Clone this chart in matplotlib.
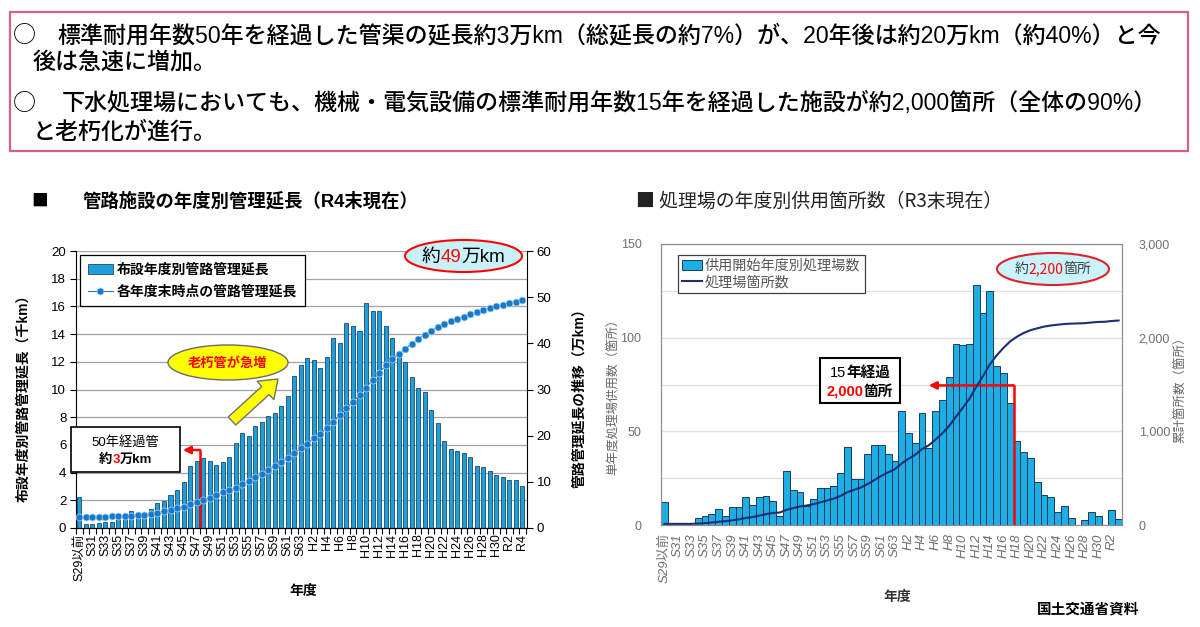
import matplotlib
matplotlib.use('Agg')
import matplotlib.pyplot as plt
import numpy as np
from matplotlib.patches import Ellipse, Rectangle, FancyArrow

# ---------------- data ----------------
pipe_cats = ['S29以前',
             'S30', 'S31', 'S32', 'S33', 'S34', 'S35', 'S36', 'S37', 'S38', 'S39',
             'S40', 'S41', 'S42', 'S43', 'S44', 'S45', 'S46', 'S47', 'S48', 'S49',
             'S50', 'S51', 'S52', 'S53', 'S54', 'S55', 'S56', 'S57', 'S58', 'S59',
             'S60', 'S61', 'S62', 'S63',
             'H1', 'H2', 'H3', 'H4', 'H5', 'H6', 'H7', 'H8', 'H9', 'H10',
             'H11', 'H12', 'H13', 'H14', 'H15', 'H16', 'H17', 'H18', 'H19', 'H20',
             'H21', 'H22', 'H23', 'H24', 'H25', 'H26', 'H27', 'H28', 'H29', 'H30',
             'R1', 'R2', 'R3', 'R4']
plant_cats = pipe_cats[:68]          # S29以前 ... R3

# 布設年度別管路管理延長 (千km)
pipe_len = [2.25, 0.3, 0.3, 0.35, 0.4, 0.4, 0.65, 0.7, 1.2, 0.95,
            1.0, 1.4, 1.8, 1.95, 2.38, 2.72, 3.3, 4.45, 4.84, 5.03,
            4.86, 4.55, 4.77, 5.15, 6.16, 6.83, 6.67, 7.39, 7.65, 8.09,
            8.28, 8.83, 9.53, 10.97, 11.75, 12.3, 12.1, 11.58, 12.32, 13.74,
            13.38, 14.78, 14.58, 14.22, 16.27, 15.7, 15.7, 14.6, 13.7, 12.55,
            11.95, 10.9, 10.1, 9.8, 8.55, 7.55, 6.27, 5.7, 5.55, 5.4,
            5.15, 4.5, 4.4, 4.1, 3.85, 3.7, 3.5, 3.45, 3.0]
# 各年度末時点の管路管理延長 (万km)
pipe_cum = [2.3, 2.35, 2.35, 2.4, 2.45, 2.5, 2.55, 2.6, 2.7, 2.8,
            2.9, 3.05, 3.3, 3.6, 3.9, 4.3, 4.6, 5.1, 5.6, 6.1,
            6.6, 7.1, 7.7, 8.2, 8.7, 9.5, 10.2, 11.0, 11.8, 12.6,
            13.4, 14.3, 15.2, 16.2, 17.3, 18.3, 19.4, 20.4, 21.7, 23.0,
            24.4, 25.9, 27.4, 28.8, 30.4, 32.1, 33.5, 35.2, 36.5, 37.7,
            38.8, 39.9, 40.9, 41.9, 42.7, 43.5, 44.2, 44.8, 45.3, 45.8,
            46.3, 46.8, 47.2, 47.6, 48.0, 48.4, 48.7, 49.0, 49.4]

# 供用開始年度別処理場数 (箇所)
plants = [12.5, 0, 0, 0, 0, 3.6, 4.8, 5.7, 8.7, 4.8,
          9.8, 9.8, 14.8, 10.5, 14.8, 15.7, 12.6, 4.8, 28.8, 18.7,
          17.6, 10.1, 13.7, 19.8, 19.8, 20.6, 27.6, 41.8, 24.7, 24.7,
          37.7, 42.7, 42.7, 37.7, 34, 61, 49, 43.7, 60, 41,
          61, 66.8, 78.9, 96.8, 96.1, 96.8, 128, 113, 124.9, 85,
          81, 65, 45, 39, 35.9, 22.9, 15.8, 14.9, 6.9, 10.1,
          3.9, 0, 2.8, 6.9, 5, 0, 7.8, 3]
# 処理場箇所数 (累計, 箇所)
plant_cum = [12, 12, 12, 12, 12, 16, 21, 27, 35, 40,
             50, 60, 75, 85, 100, 116, 128, 133, 162, 180,
             198, 208, 222, 242, 261, 282, 310, 351, 376, 401,
             438, 481, 524, 562, 596, 657, 706, 750, 810, 851,
             912, 979, 1058, 1155, 1251, 1348, 1476, 1589, 1714, 1810,
             1890, 1960, 2010, 2050, 2080, 2100, 2118, 2130, 2138, 2146,
             2150, 2152, 2155, 2162, 2168, 2170, 2178, 2183]

header_lines = [
    ('○', '標準耐用年数50年を経過した管渠の延長約3万km（総延長の約7%）が、20年後は約20万km（約40%）と今'),
    ('', '後は急速に増加。'),
    ('○', '下水処理場においても、機械・電気設備の標準耐用年数15年を経過した施設が約2,000箇所（全体の90%）'),
    ('', 'と老朽化が進行。'),
]

# ---------------- setup ----------------
JP = ['Noto Sans CJK JP', 'DejaVu Sans']
LAT = ['Liberation Sans', 'Noto Sans CJK JP', 'DejaVu Sans']
plt.rcParams['font.family'] = LAT
plt.rcParams['axes.unicode_minus'] = False

W, H = 1200, 627
fig = plt.figure(figsize=(12, 6.27), dpi=100)
fig.patch.set_facecolor('white')


def rect(l, t, r, b):
    return [l / W, 1 - b / H, (r - l) / W, (b - t) / H]


# ---------------- left chart ----------------
ax1 = fig.add_axes(rect(76, 251, 527, 528))
xp = np.arange(len(pipe_cats))
bars1 = ax1.bar(xp, pipe_len, width=0.62, color='#1f9fd9', edgecolor='#1c4a6e',
                linewidth=0.6, zorder=2, label='布設年度別管路管理延長')
ax1.set_xlim(-0.3, 68.7)
ax1.set_ylim(0, 20)
ax1.set_yticks(np.arange(0, 21, 2))
ax1.yaxis.grid(True, color='#a3a3a3', lw=0.9)
ax1.set_axisbelow(True)
ax1.set_xticks(xp[::2])
ax1.set_xticklabels(pipe_cats[::2], rotation=90, fontsize=9, family=LAT)
ax1.set_xticks(np.arange(-0.5, 69, 1), minor=True)
ax1.tick_params(axis='x', which='major', length=0, pad=4)
ax1.tick_params(axis='x', which='minor', length=4, width=0.8, direction='out')
ax1.tick_params(axis='y', length=4, width=0.8, direction='out', labelsize=9.5, pad=3)
for s in ('top', 'right'):
    ax1.spines[s].set_visible(False)

ax1b = ax1.twinx()
line1, = ax1b.plot(xp, pipe_cum, '-o', color='#1a78c8', lw=0.8, ms=5.0,
                   mec='#a9d8f5', mew=0.5, zorder=3, label='各年度末時点の管路管理延長')
ax1b.set_ylim(0, 60)
ax1b.set_yticks(np.arange(0, 61, 10))
ax1b.tick_params(axis='y', length=4, width=0.8, direction='out', labelsize=9.5, pad=3)
for s in ('top', 'left'):
    ax1b.spines[s].set_visible(False)

leg1 = ax1b.legend(handles=[bars1, line1], loc='upper left', bbox_to_anchor=(0.009, 0.985),
                   frameon=True, fancybox=False, edgecolor='black', framealpha=1,
                   prop=dict(family=LAT, weight='bold', size=10), handlelength=1.8,
                   handletextpad=0.3, borderpad=0.55, labelspacing=0.55, borderaxespad=0)
leg1.get_frame().set_linewidth(0.9)

# red 50-year marker
ax1.plot([18.5, 18.5], [0, 5.63], color='red', lw=1.8, zorder=4, solid_capstyle='butt')
ax1.annotate('', xy=(15.9, 5.63), xytext=(18.55, 5.63),
             arrowprops=dict(arrowstyle='-|>', color='red', lw=1.8, mutation_scale=11,
                             shrinkA=0, shrinkB=0), zorder=4)

# ---------------- right chart ----------------
ax2 = fig.add_axes(rect(661, 244, 1122, 525))
xq = np.arange(len(plant_cats))
bars2 = ax2.bar(xq, plants, width=1.0, color='#1daee6', edgecolor='#1f3b56',
                linewidth=0.7, zorder=2, label='供用開始年度別処理場数')
ax2.set_xlim(-0.5, 67.5)
ax2.set_ylim(0, 150)
ax2.set_yticks(np.arange(0, 151, 25))
ax2.set_yticklabels(['0', '', '50', '', '100', '', '150'])
ax2.yaxis.grid(True, color='#e0e0e0', lw=1.0)
ax2.set_axisbelow(True)
ax2.set_xticks(xq[::2])
ax2.set_xticklabels(plant_cats[::2], rotation=90, fontsize=9.5, style='italic',
                    family=LAT, color='#6e6e6e')
ax2.tick_params(axis='x', length=0, pad=6)
ax2.tick_params(axis='y', length=0, pad=14, labelsize=9, labelcolor='#707070')
for s in ax2.spines.values():
    s.set_color('#8c8c8c')

ax2b = ax2.twinx()
line2, = ax2b.plot(xq, plant_cum, color='#1b2f73', lw=1.5, zorder=3, label='処理場箇所数')
ax2b.set_ylim(0, 3000)
ax2b.set_yticks([0, 1000, 2000, 3000])
ax2b.set_yticklabels(['0', '1,000', '2,000', '3,000'])
ax2b.tick_params(axis='y', length=0, pad=12, labelsize=9, labelcolor='#707070')
for s in ax2b.spines.values():
    s.set_color('#8c8c8c')

leg2 = ax2b.legend(handles=[bars2, line2], loc='upper left', bbox_to_anchor=(0.037, 0.962),
                   frameon=True, fancybox=False, edgecolor='#404040', framealpha=1,
                   prop=dict(family=JP, size=10.2), handlelength=1.4, handletextpad=0.2,
                   borderpad=0.3, labelspacing=0.15, borderaxespad=0)
leg2.get_frame().set_linewidth(0.9)
for t in leg2.get_texts():
    t.set_color('#555555')

ax2.plot([51.5, 51.5], [0, 74.5], color='red', lw=1.8, zorder=4, solid_capstyle='butt')
ax2.annotate('', xy=(39.0, 74.5), xytext=(51.55, 74.5),
             arrowprops=dict(arrowstyle='-|>', color='red', lw=1.8, mutation_scale=11,
                             shrinkA=0, shrinkB=0), zorder=4)

# ---------------- overlay (pixel coordinates) ----------------
ov = fig.add_axes([0, 0, 1, 1], zorder=10)
ov.set_xlim(0, W)
ov.set_ylim(H, 0)
ov.axis('off')
ov.patch.set_alpha(0)

R = fig.canvas.get_renderer()


def ctext(x, y, parts, size, ha='center', family=LAT, **kw):
    objs = []
    for s, c, extra in parts:
        d = dict(kw)
        d.update(extra)
        objs.append(ov.text(0, y, s, color=c, fontsize=size, ha='left', va='center',
                            family=family, **d))
    ws = [o.get_window_extent(R).width for o in objs]
    start = x - sum(ws) / 2 if ha == 'center' else x
    for o, w in zip(objs, ws):
        o.set_x(start)
        start += w
    return objs


# header box
ov.add_patch(Rectangle((9.5, 12), 1178.5, 139, fill=False, ec='#d95f84', lw=1.6))
hdr_y = [36, 63, 103, 132]
hdr_x = [57, 33, 62, 33]
t0 = ov.text(hdr_x[0], hdr_y[0], header_lines[0][1], fontsize=16, ha='left', va='center',
             family=LAT, weight='medium')
w0 = t0.get_window_extent(R).width
fs = 16 * (1163 - 57) / w0
t0.set_fontsize(fs)
for i in range(1, 4):
    ov.text(hdr_x[i], hdr_y[i], header_lines[i][1], fontsize=fs, ha='left', va='center',
            family=LAT, weight='medium')
for i in (0, 2):
    ov.text(24, hdr_y[i], header_lines[i][0], fontsize=fs, ha='center', va='center',
            family=JP)

# titles
ov.text(40, 201, '■', fontsize=12, ha='center', va='center', family=JP, weight='bold')
ov.text(83, 201, '管路施設の年度別管理延長（R4末現在）', fontsize=13.2, ha='left',
        va='center', family=LAT, weight='bold')
ov.text(636, 201, '■ 処理場の年度別供用箇所数（R3末現在）', fontsize=13.6, ha='left',
        va='center', family=JP, color='#222222')

# axis labels
ov.text(23, 395, '布設年度別管路管理延長（千km）', rotation=90, ha='center', va='center',
        fontsize=10, weight='bold', family=LAT)
ov.text(579, 395, '管路管理延長の推移（万km）', rotation=90, ha='center', va='center',
        fontsize=10, weight='bold', family=LAT)
ov.text(613, 394, '単年度処理場供用数（箇所）', rotation=90, ha='center', va='center',
        fontsize=9, family=JP, color='#666666')
ov.text(1181, 387, '累計箇所数（箇所）', rotation=90, ha='center', va='center',
        fontsize=9, family=JP, color='#666666')
ov.text(303, 591, '年度', ha='center', va='center', fontsize=10, weight='bold', family=JP)
ov.text(897, 597, '年度', ha='center', va='center', fontsize=10, weight='bold', family=JP,
        color='#333333')
ov.text(1088, 608, '国土交通省資料', ha='center', va='center', fontsize=10.5,
        weight='bold', family=JP)

# left annotations
ov.add_patch(Rectangle((71, 427), 109, 45, fc='white', ec='black', lw=1.2))
ov.text(125.5, 442, '50年経過管', ha='center', va='center', fontsize=9.5, family=LAT)
ctext(125.5, 460, [('約', 'black', {}), ('3', 'red', {'weight': 'bold'}),
                   ('万km', 'black', {})], 9.5, weight='bold')

ov.add_patch(Ellipse((228, 362.5), 120, 35, fc='#ffff00', ec='#6b6b6b', lw=1.0))
ov.text(228, 363, '老朽管が急増', ha='center', va='center', fontsize=9.5, color='red',
        weight='bold', family=JP)
ov.add_patch(FancyArrow(232, 421, 46, -42, width=11, head_width=25, head_length=17,
                        length_includes_head=True, fc='#ffff00', ec='#707070', lw=1.0))

ov.add_patch(Ellipse((463.5, 256), 117, 32, fc='#c8f2f8', ec='red', lw=1.5))
ctext(463.5, 257, [('約', 'black', {}), ('49', 'red', {}), ('万km', 'black', {})], 13.5)

# right annotations
ov.add_patch(Rectangle((820, 358), 80, 45, fc='white', ec='black', lw=1.5))
ctext(860, 373, [('15', 'black', {}), ('年経過', 'black', {'weight': 'bold'})], 10.5)
ctext(860, 392, [('2,000', 'red', {'weight': 'bold'}), ('箇所', 'black', {'weight': 'bold'})],
      10.5)

ov.add_patch(Ellipse((1053, 269), 112, 32, fc='#c9f4fb', ec='#e0202a', lw=1.5))
ctext(1053, 269, [('約', '#404040', {}), ('2,200', 'red', {}), ('箇所', '#404040', {})],
      10, family=JP)

fig.savefig('out.png', dpi=100, facecolor='white')
